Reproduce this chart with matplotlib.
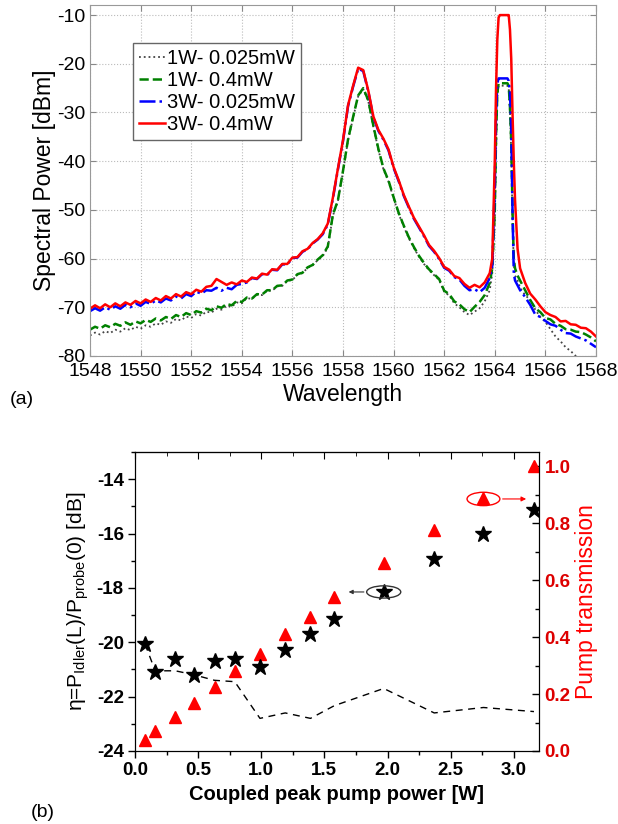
import matplotlib
matplotlib.use('Agg')
import matplotlib.pyplot as plt
from matplotlib.patches import Ellipse
from matplotlib.ticker import MultipleLocator, FormatStrFormatter
import numpy as np

plt.rcParams['font.family'] = ['Liberation Sans', 'DejaVu Sans']
plt.rcParams['axes.unicode_minus'] = False

# ---- (a) spectra: wavelength grid (coarse wings, fine around the pump) ----
wl = np.concatenate([
    np.round(np.arange(1548.0, 1557.01, 0.2), 2),          # 46
    np.round(np.arange(1557.2, 1563.81, 0.2), 2),          # 34
    [1563.9, 1564.0, 1564.05, 1564.1, 1564.15, 1564.2, 1564.3, 1564.4,
     1564.5, 1564.55, 1564.6, 1564.65, 1564.7, 1564.75, 1564.8, 1564.9,
     1565.0],                                              # 17
    np.round(np.arange(1565.2, 1568.01, 0.2), 2),          # 15
])

p_1w_low = [
    -75.8, -75.2, -75.6, -74.9, -75.3, -74.6, -75.0, -74.3, -74.7, -74.0,
    -74.4, -73.7, -74.0, -73.3, -73.6, -72.9, -73.2, -72.4, -72.7, -71.9,
    -72.2, -71.4, -71.7, -70.9, -71.1, -70.3, -70.5, -69.7, -69.9, -69.0,
    -69.2, -68.1, -68.3, -67.4, -67.5, -66.6, -66.6, -65.7, -65.6, -64.6,
    -64.4, -63.3, -63.0, -61.9, -61.4, -60.3,
    -59.5, -57.7, -51.2, -48.2, -42.2, -35.7, -31.1, -26.7, -25.2, -27.7,
    -32.9, -37.7, -41.7, -44.2, -47.6, -50.8, -53.4, -55.8, -57.8, -59.6,
    -61.1, -62.4, -63.4, -64.4, -66.8, -67.6, -69.2, -70.0, -71.0, -71.6,
    -70.9, -70.2, -68.8, -66.5,
    -63.0, -52.0, -38.0, -27.0, -24.5, -24.5, -24.5, -24.5, -24.5, -25.0,
    -30.0, -38.0, -52.0, -61.0, -63.5, -64.5, -66.0,
    -67.5, -68.5, -70.5, -72.0, -73.0, -74.5, -76.0, -77.0, -78.2, -79.0,
    -80.0, -80.5, -81.5, -82.0, -83.0,
]
p_1w_high = [
    -74.6, -74.0, -74.4, -73.7, -74.1, -73.4, -73.8, -73.1, -73.6, -72.9,
    -73.3, -72.6, -73.0, -72.3, -72.7, -72.0, -72.4, -71.6, -72.0, -71.2,
    -71.6, -70.8, -71.1, -70.3, -70.6, -69.8, -70.1, -69.3, -69.6, -68.7,
    -68.9, -68.0, -68.2, -67.3, -67.4, -66.5, -66.5, -65.6, -65.5, -64.5,
    -64.3, -63.2, -62.9, -61.8, -61.3, -60.2,
    -59.3, -57.5, -51.0, -48.0, -42.0, -35.5, -30.9, -26.5, -25.0, -27.5,
    -32.7, -37.5, -41.5, -44.0, -47.4, -50.6, -53.2, -55.6, -57.6, -59.4,
    -60.9, -62.2, -63.2, -64.2, -66.6, -67.3, -68.8, -69.4, -70.4, -71.0,
    -69.9, -68.9, -67.5, -65.0,
    -62.0, -50.0, -35.0, -26.0, -24.0, -24.0, -24.0, -24.0, -24.0, -24.5,
    -29.0, -36.0, -50.0, -60.0, -62.0, -63.5, -64.5,
    -66.5, -68.5, -70.2, -71.0, -72.2, -72.5, -73.4, -73.8, -74.5, -74.6,
    -75.0, -75.1, -75.6, -76.2, -77.0,
]
p_3w_low = [
    -70.8, -70.2, -70.7, -70.0, -70.5, -69.8, -70.3, -69.5, -70.0, -69.2,
    -69.7, -68.9, -69.3, -68.6, -69.0, -68.2, -68.6, -67.8, -68.2, -67.3,
    -67.7, -66.8, -67.2, -66.5, -66.6, -66.0, -66.6, -66.0, -66.3, -65.4,
    -65.2, -64.9, -64.0, -64.2, -63.2, -63.4, -62.3, -62.4, -61.2, -61.2,
    -59.9, -59.8, -58.6, -58.1, -56.9, -56.1,
    -55.0, -53.0, -47.7, -41.7, -35.9, -28.7, -24.7, -21.0, -21.5, -25.7,
    -31.0, -33.8, -35.6, -37.8, -41.4, -44.1, -47.1, -49.5, -51.8, -53.6,
    -55.4, -57.4, -58.6, -60.1, -61.9, -62.5, -63.8, -64.3, -65.6, -66.5,
    -66.3, -66.9, -66.0, -64.0,
    -61.5, -45.0, -30.0, -24.0, -23.0, -23.0, -23.0, -23.0, -23.0, -23.5,
    -26.0, -33.0, -50.0, -63.0, -64.5, -65.5, -66.5,
    -67.9, -69.5, -71.5, -72.0, -72.8, -73.5, -73.8, -74.6, -75.3, -75.4,
    -76.0, -76.4, -76.8, -77.5, -78.2,
]
p_3w_high = [
    -70.3, -69.6, -70.2, -69.4, -70.0, -69.2, -69.8, -69.0, -69.5, -68.7,
    -69.2, -68.4, -68.9, -68.1, -68.6, -67.7, -68.2, -67.3, -67.8, -66.9,
    -67.3, -66.4, -66.8, -65.8, -65.6, -64.2, -64.8, -65.4, -64.9, -65.3,
    -64.5, -64.8, -63.9, -64.1, -63.1, -63.3, -62.2, -62.3, -61.1, -61.1,
    -59.8, -59.7, -58.5, -58.0, -56.8, -56.0,
    -54.8, -52.8, -47.5, -41.5, -35.7, -28.5, -24.5, -20.8, -21.3, -25.5,
    -30.8, -33.6, -35.4, -37.6, -41.2, -43.9, -46.9, -49.3, -51.6, -53.4,
    -55.2, -57.2, -58.4, -59.9, -61.7, -62.3, -63.6, -64.0, -65.2, -66.0,
    -65.4, -65.9, -64.9, -63.0,
    -60.0, -40.0, -25.0, -15.0, -10.5, -10.0, -10.0, -10.0, -10.0, -10.0,
    -13.0, -19.0, -30.0, -40.0, -48.0, -58.0, -62.0,
    -65.0, -67.2, -68.4, -69.8, -71.0, -71.6, -72.0, -72.9, -72.8, -73.5,
    -73.6, -74.2, -74.3, -75.0, -76.0,
]
labels_a = ['1W- 0.025mW', '1W- 0.4mW', '3W- 0.025mW', '3W- 0.4mW']

# ---- (b) conversion efficiency and pump transmission ----
pump_power = [0.08, 0.16, 0.32, 0.47, 0.63, 0.79, 0.99, 1.19, 1.39, 1.58,
              1.97, 2.37, 2.76, 3.16]
eta_db = [-20.07, -21.1, -20.6, -21.2, -20.7, -20.6, -20.9, -20.3, -19.7,
          -19.15, -18.15, -16.95, -16.0, -15.15]
eta_sim = [-20.07, -21.05, -21.05, -21.2, -21.4, -21.45, -22.8, -22.6, -22.8,
           -22.33, -21.7, -22.6, -22.4, -22.55]
pump_trans = [0.04, 0.07, 0.12, 0.17, 0.225, 0.28, 0.34, 0.41, 0.47, 0.54,
              0.66, 0.775, 0.89, 1.0]

fig = plt.figure(figsize=(6.18, 8.24), dpi=100)

# ================= (a) =================
ax = fig.add_axes([0.1456, 0.568, 0.8188, 0.4255])
ax.plot(wl, p_1w_low, ':', color='#444444', lw=1.3, label=labels_a[0])
ax.plot(wl, p_1w_high, '--', color='#008000', lw=1.8, label=labels_a[1])
ax.plot(wl, p_3w_low, '-.', color='#0000ff', lw=1.8, label=labels_a[2])
ax.plot(wl, p_3w_high, '-', color='#ff0000', lw=1.8, label=labels_a[3])

ax.set_xlim(1548, 1568)
ax.set_ylim(-80, -8)
ax.set_xticks(np.arange(1548, 1569, 2))
ax.set_yticks(np.arange(-80, -9, 10))
ax.grid(True, ls=':', color='#bbbbbb', lw=0.8)
ax.tick_params(direction='in', top=True, right=True, labelsize=14,
               length=4, color='#888888')
ax.tick_params(axis='x', pad=5)
ax.tick_params(axis='y', pad=3)
for s in ax.spines.values():
    s.set_color('#999999')
ax.set_xlabel('Wavelength', fontsize=16.5, labelpad=2)
ax.set_ylabel('Spectral Power [dBm]', fontsize=16.5, labelpad=1)
leg = ax.legend(loc='upper left', bbox_to_anchor=(0.085, 0.892),
                fontsize=14.5, handlelength=1.3, handletextpad=0.1,
                borderpad=0.3, labelspacing=0.15, borderaxespad=0,
                fancybox=False, framealpha=1, edgecolor='#666666')
fig.text(0.016, 0.515, '(a)', fontsize=14, va='center')

# ================= (b) =================
ax1 = fig.add_axes([0.2184, 0.0886, 0.6538, 0.3629])
ax2 = ax1.twinx()

ax1.plot(pump_power, eta_sim, '--', color='black', lw=1.0, dashes=(5, 4))
ax2.plot(pump_power, pump_trans, '^', color='#ff0000', ms=9, mec='#ff0000')
ax1.plot(pump_power, eta_db, '*', color='black', ms=12, zorder=5)
ax1.set_zorder(ax2.get_zorder() + 1)
ax1.patch.set_visible(False)

ax1.set_xlim(0, 3.2)
ax1.set_ylim(-24, -13)
ax2.set_ylim(0, 1.05)
ax1.xaxis.set_major_locator(MultipleLocator(0.5))
ax1.xaxis.set_minor_locator(MultipleLocator(0.25))
ax1.xaxis.set_major_formatter(FormatStrFormatter('%.1f'))
ax1.yaxis.set_major_locator(MultipleLocator(2))
ax1.yaxis.set_minor_locator(MultipleLocator(1))
ax2.yaxis.set_major_locator(MultipleLocator(0.2))
ax2.yaxis.set_minor_locator(MultipleLocator(0.1))
ax2.yaxis.set_major_formatter(FormatStrFormatter('%.1f'))

ax1.tick_params(which='major', direction='out', length=5, width=1,
                labelsize=13.5, pad=3)
ax1.tick_params(which='minor', direction='out', length=3, width=1)
ax2.tick_params(which='major', direction='in', length=5, width=1,
                labelsize=13.5, labelcolor='#dd0000', pad=4)
ax2.tick_params(which='minor', direction='in', length=3, width=1)
for t in ax1.get_xticklabels() + ax1.get_yticklabels() + ax2.get_yticklabels():
    t.set_fontweight('bold')

top = ax1.secondary_xaxis('top')
top.xaxis.set_major_locator(MultipleLocator(0.5))
top.xaxis.set_minor_locator(MultipleLocator(0.25))
top.tick_params(which='major', direction='in', length=5, labeltop=False)
top.tick_params(which='minor', direction='in', length=3)

ax1.set_xlabel('Coupled peak pump power [W]', fontsize=14.5,
               fontweight='bold', labelpad=4)
ax1.set_ylabel('η=P$_{\\mathregular{Idler}}$(L)/P$_{\\mathregular{probe}}$(0) [dB]',
               fontsize=15, labelpad=4)
ax2.set_ylabel('Pump transmission', fontsize=16.5, color='#ff0000', labelpad=3)

# annotation ellipses with arrows
ax1.add_patch(Ellipse((1.97, -18.15), 0.27, 0.45, fill=False,
                      ec='#333333', lw=1.0, zorder=6))
ax1.annotate('', xy=(1.67, -18.15), xytext=(1.835, -18.15),
             arrowprops=dict(arrowstyle='-|>', color='#333333', lw=0.8,
                             mutation_scale=6))
ax2.add_patch(Ellipse((2.76, 0.885), 0.26, 0.047, fill=False,
                      ec='#ff0000', lw=1.0))
ax2.annotate('', xy=(3.12, 0.885), xytext=(2.89, 0.885),
             arrowprops=dict(arrowstyle='-|>', color='#ff0000', lw=0.8,
                             mutation_scale=7))

fig.text(0.05, 0.004, '(b)', fontsize=14, va='bottom')

plt.savefig('out.png', dpi=100, facecolor='white')
plt.close()
